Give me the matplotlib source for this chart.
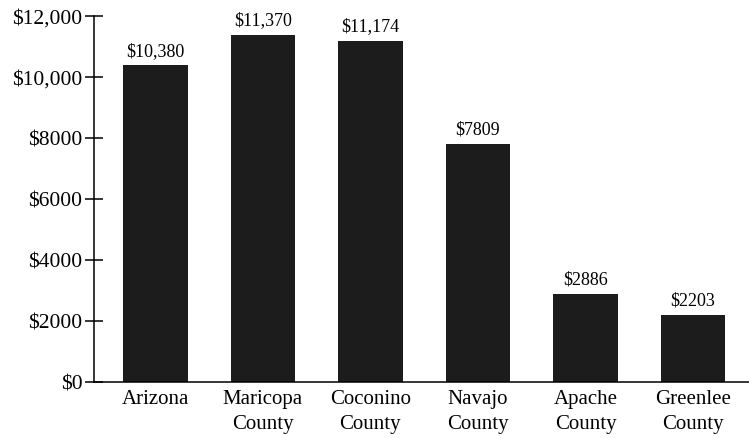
import matplotlib
matplotlib.use('Agg')
import matplotlib.pyplot as plt

places = ['Arizona', 'Maricopa\nCounty', 'Coconino\nCounty', 'Navajo\nCounty',
          'Apache\nCounty', 'Greenlee\nCounty']
values = [10380, 11370, 11174, 7809, 2886, 2203]
value_labels = ['$10,380', '$11,370', '$11,174', '$7809', '$2886', '$2203']
yticks = [0, 2000, 4000, 6000, 8000, 10000, 12000]
ytick_labels = ['$0', '$2000', '$4000', '$6000', '$8000', '$10,000', '$12,000']

plt.rcParams['font.family'] = ['Liberation Serif', 'DejaVu Serif']

fig = plt.figure(figsize=(7.49, 4.39), dpi=100)
ax = fig.add_axes([0.1255, 0.1276, 0.8745, 0.8337])

x = list(range(len(places)))
ax.bar(x, values, width=0.6, color='#1c1c1c')
for xi, v, lab in zip(x, values, value_labels):
    ax.text(xi, v + 220, lab, ha='center', va='bottom', fontsize=13)

ax.set_xlim(-0.57, 5.52)
ax.set_ylim(0, 12000)
ax.set_yticks(yticks)
ax.set_yticklabels(ytick_labels, fontsize=15.5)
ax.set_xticks(x)
ax.set_xticklabels(places, fontsize=15, linespacing=1.45)
ax.tick_params(axis='x', length=0, pad=5)
ax.tick_params(axis='y', direction='inout', length=13, width=1.1, pad=2)

for s in ['top', 'right']:
    ax.spines[s].set_visible(False)
for s in ['left', 'bottom']:
    ax.spines[s].set_linewidth(1.1)
ax.spines['left'].set_bounds(0, 12000)

fig.savefig('out.png', dpi=100)
